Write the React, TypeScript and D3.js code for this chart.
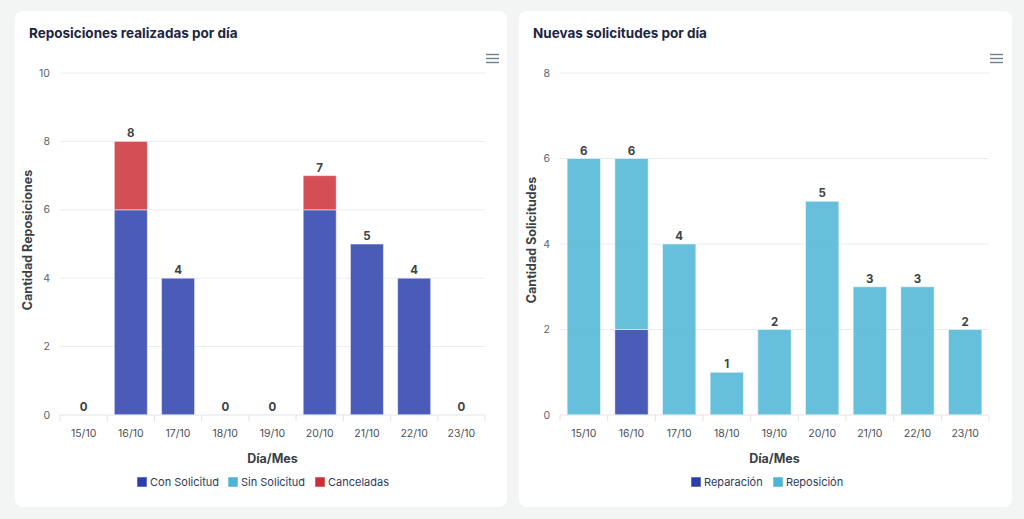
import React from "react";
import * as d3 from "d3";

const days = ["15/10", "16/10", "17/10", "18/10", "19/10", "20/10", "21/10", "22/10", "23/10"];

const conSolicitud = [0, 6, 4, 0, 0, 6, 5, 4, 0];
const sinSolicitud = [0, 0, 0, 0, 0, 0, 0, 0, 0];
const canceladas = [0, 2, 0, 0, 0, 1, 0, 0, 0];
const leftTicks = [0, 2, 4, 6, 8, 10];

const reparacion = [0, 2, 0, 0, 0, 0, 0, 0, 0];
const reposicion = [6, 4, 4, 1, 2, 5, 3, 3, 2];
const rightTicks = [0, 2, 4, 6, 8];

type Series = { name: string; color: string; values: number[] };

const FONT = "Inter, 'Noto Sans', sans-serif";

function Panel(props: {
  x: number;
  w: number;
  title: string;
  yTitle: string;
  series: Series[];
  ticks: number[];
  plotLeft: number;
  plotRight: number;
  legendX: number[];
}) {
  const { x, w, title, yTitle, series, ticks, plotLeft, plotRight, legendX } = props;
  const top = 73;
  const bottom = 415;
  const xs = d3.scaleBand<string>().domain(days).range([plotLeft, plotRight]).paddingInner(0.3).paddingOuter(0.15);
  const y = d3.scaleLinear().domain([0, d3.max(ticks) as number]).range([bottom, top]);
  const rows = days.map((d, i) => {
    const r: any = { day: d };
    series.forEach((s) => (r[s.name] = s.values[i]));
    return r;
  });
  const stacked = d3.stack<any>().keys(series.map((s) => s.name))(rows);
  const totals = days.map((_, i) => d3.sum(series, (s) => s.values[i]));
  const step = (plotRight - plotLeft) / days.length;
  return (
    <g>
      <rect x={x} y={11} width={w} height={496} rx={8} fill="#ffffff" />
      <text x={x + 14} y={38} fontSize={13.5} fontWeight={700} fill="#1c2543" fontFamily={FONT}>
        {title}
      </text>
      {/* menu icon */}
      {[0, 4, 8].map((o) => (
        <line key={o} x1={plotRight + 1} x2={plotRight + 14} y1={54.5 + o} y2={54.5 + o} stroke="#6e7f90" strokeWidth={1.4} />
      ))}
      {ticks.map((t) => (
        <g key={t}>
          {t > 0 && <line x1={plotLeft} x2={plotRight} y1={y(t)} y2={y(t)} stroke="#e9ecef" strokeWidth={1} />}
          <text x={plotLeft - 10} y={y(t)} dy="0.35em" textAnchor="end" fontSize={10.5} fill="#5e646e" fontFamily={FONT}>
            {t}
          </text>
        </g>
      ))}
      {stacked.map((layer, si) => (
        <g key={layer.key}>
          {layer.map((d, i) =>
            d[1] - d[0] > 0 ? (
              <rect
                key={i}
                x={xs(days[i])}
                width={xs.bandwidth()}
                y={y(d[1])}
                height={y(d[0]) - y(d[1])}
                fill={series[si].color}
                fillOpacity={0.85}
                stroke="#ffffff"
                strokeOpacity={0.5}
                strokeWidth={1}
              />
            ) : null
          )}
        </g>
      ))}
      <line x1={plotLeft} x2={plotRight} y1={bottom} y2={bottom} stroke="#e0e3e7" strokeWidth={1} />
      {d3.range(days.length + 1).map((i) => (
        <line key={i} x1={plotLeft + i * step} x2={plotLeft + i * step} y1={bottom} y2={bottom + 6} stroke="#e0e3e7" strokeWidth={1} />
      ))}
      {days.map((d, i) => (
        <text
          key={d}
          x={(xs(d) as number) + xs.bandwidth() / 2}
          y={437}
          textAnchor="middle"
          fontSize={10.5}
          fill="#4a5058"
          fontFamily={FONT}
        >
          {d}
        </text>
      ))}
      {totals.map((t, i) => (
        <text
          key={i}
          x={(xs(days[i]) as number) + xs.bandwidth() / 2}
          y={y(t) - 4}
          textAnchor="middle"
          fontSize={11.5}
          fontWeight={700}
          fill="#3d4347"
          fontFamily={FONT}
        >
          {t}
        </text>
      ))}
      <text
        x={(plotLeft + plotRight) / 2}
        y={463}
        textAnchor="middle"
        fontSize={12.5}
        fontWeight={700}
        fill="#3a3f45"
        fontFamily={FONT}
      >
        Día/Mes
      </text>
      <text
        transform={`translate(${x + 13},${240}) rotate(-90)`}
        textAnchor="middle"
        dy="0.35em"
        fontSize={12.5}
        fontWeight={700}
        fill="#3a3f45"
        fontFamily={FONT}
      >
        {yTitle}
      </text>
      {series.map((s, i) => (
        <g key={s.name} transform={`translate(${legendX[i]},477)`}>
          <rect x={0} y={0} width={10} height={10} fill={s.color} stroke="#ffffff" strokeWidth={0.5} />
          <text x={13} y={5} dy="0.35em" fontSize={11} fill="#2f3a5a" fontFamily={FONT}>
            {s.name}
          </text>
        </g>
      ))}
    </g>
  );
}

export default function App() {
  const leftSeries: Series[] = [
    { name: "Con Solicitud", color: "#2b3fab", values: conSolicitud },
    { name: "Sin Solicitud", color: "#4cb5d5", values: sinSolicitud },
    { name: "Canceladas", color: "#cc2f38", values: canceladas },
  ];
  const rightSeries: Series[] = [
    { name: "Reparación", color: "#2b3fab", values: reparacion },
    { name: "Reposición", color: "#4cb5d5", values: reposicion },
  ];
  return (
    <svg
      width={1024}
      height={519}
      style={{ position: "fixed", left: 0, top: 0, display: "block" }}
      fontFamily={FONT}
    >
      <rect x={0} y={0} width={1024} height={519} fill="#f3f5f5" />
      <Panel
        x={15}
        w={492}
        title="Reposiciones realizadas por día"
        yTitle="Cantidad Reposiciones"
        series={leftSeries}
        ticks={leftTicks}
        plotLeft={60}
        plotRight={485}
        legendX={[137, 228, 315]}
      />
      <Panel
        x={519}
        w={493}
        title="Nuevas solicitudes por día"
        yTitle="Cantidad Solicitudes"
        series={rightSeries}
        ticks={rightTicks}
        plotLeft={560}
        plotRight={989}
        legendX={[691, 773]}
      />
    </svg>
  );
}
